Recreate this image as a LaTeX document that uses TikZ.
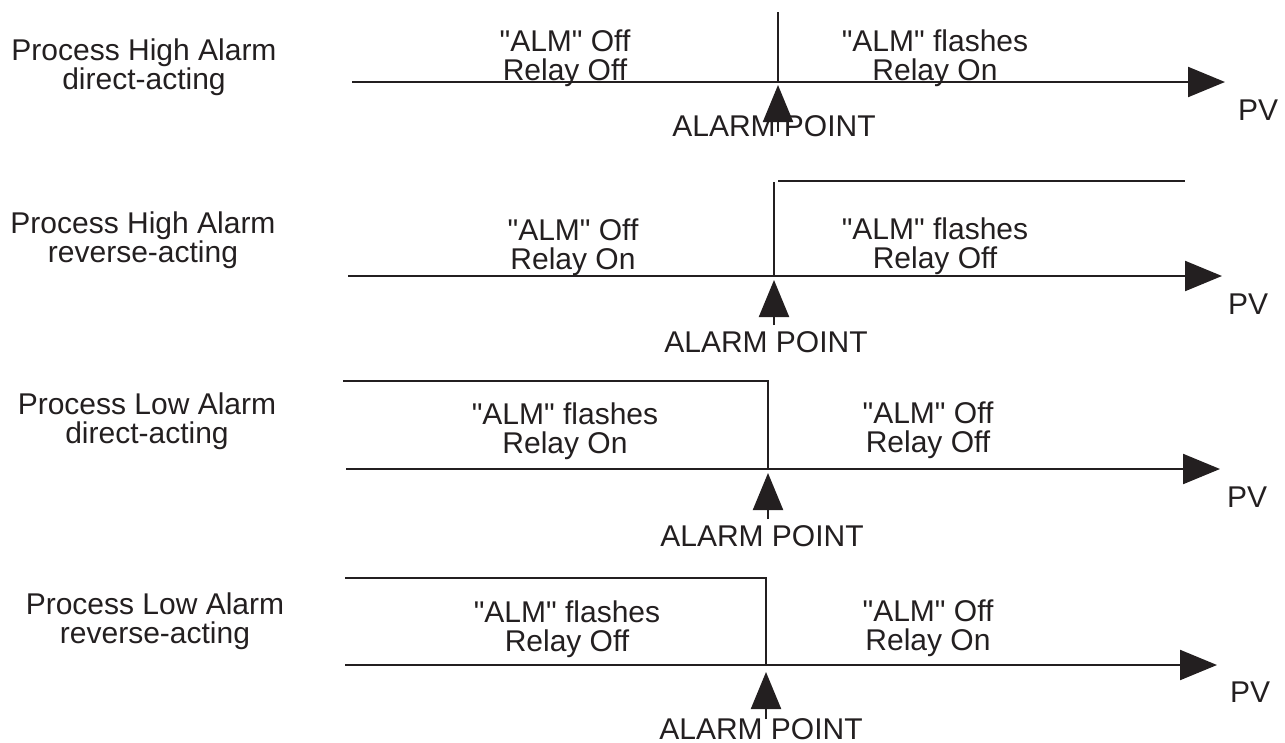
\documentclass[tikz,border=0pt]{standalone}
\usepackage{fontspec}
\setmainfont{Liberation Sans}[Ligatures=TeXOff]
\usetikzlibrary{arrows.meta}
\definecolor{ink}{HTML}{231F20}
\tikzset{
  lbl/.style={font=\fontsize{30}{29}\selectfont, text=ink, inner sep=0pt, align=center},
  one/.style={lbl, anchor=base},
  ln/.style={draw=ink, line width=2.2pt},
  axis/.style={ln, -{Triangle[length=37pt,width=30pt]}},
  pt/.style={ln, -{Triangle[length=37pt,width=30pt]}}
}
\begin{document}
\begin{tikzpicture}[x=1pt,y=-1pt]
\useasboundingbox (0,0) rectangle (1285,742);
% ---------- Row 1 ----------
\node[lbl] (l1) at (144,66.75) {Process High Alarm\\direct-acting};
\coordinate (a1s) at (352,82);
\coordinate (a1e) at (1225,82);
\coordinate (v1t) at (778,12);
\coordinate (v1b) at (778,82);
\draw[axis] (a1s) -- (a1e);
\draw[ln] (v1t) -- (v1b);
\node[lbl] (t1a) at (565,58.5) {"ALM" Off\\Relay Off};
\node[lbl] (t1b) at (935,58.5) {"ALM" flashes\\Relay On};
\node[one] (ap1) at (774,136) {ALARM POINT};
\coordinate (p1t) at (778,85);
\coordinate (p1s) at (778,132);
\draw[pt] (p1s) -- (p1t);
\node[one] (pv1) at (1258,120) {PV};
% ---------- Row 2 ----------
\node[lbl] (l2) at (143,239.75) {Process High Alarm\\reverse-acting};
\coordinate (a2s) at (348,276);
\coordinate (a2e) at (1222,276);
\coordinate (v2t) at (774,182);
\coordinate (v2b) at (774,276);
\coordinate (h2s) at (778,181);
\coordinate (h2e) at (1185,181);
\draw[axis] (a2s) -- (a2e);
\draw[ln] (v2t) -- (v2b);
\draw[ln] (h2s) -- (h2e);
\node[lbl] (t2a) at (573,247.75) {"ALM" Off\\Relay On};
\node[lbl] (t2b) at (935,245.75) {"ALM" flashes\\Relay Off};
\node[one] (ap2) at (766,352) {ALARM POINT};
\coordinate (p2t) at (774,280);
\coordinate (p2s) at (774,325);
\draw[pt] (p2s) -- (p2t);
\node[one] (pv2) at (1248,314) {PV};
% ---------- Row 3 ----------
\node[lbl] (l3) at (147,420.75) {Process Low Alarm\\direct-acting};
\coordinate (a3s) at (346,469);
\coordinate (a3e) at (1220,469);
\coordinate (h3s) at (343,381);
\coordinate (h3c) at (768,381);
\coordinate (v3b) at (768,469);
\draw[axis] (a3s) -- (a3e);
\draw[ln] (h3s) -- (h3c) -- (v3b);
\node[lbl] (t3a) at (565,431.25) {"ALM" flashes\\Relay On};
\node[lbl] (t3b) at (928,430.25) {"ALM" Off\\Relay Off};
\node[one] (ap3) at (762,546) {ALARM POINT};
\coordinate (p3t) at (768,473);
\coordinate (p3s) at (768,519);
\draw[pt] (p3s) -- (p3t);
\node[one] (pv3) at (1247,507) {PV};
% ---------- Row 4 ----------
\node[lbl] (l4) at (155,620.75) {Process Low Alarm\\reverse-acting};
\coordinate (a4s) at (345,665);
\coordinate (a4e) at (1217,665);
\coordinate (h4s) at (345,578);
\coordinate (h4c) at (766,578);
\coordinate (v4b) at (766,665);
\draw[axis] (a4s) -- (a4e);
\draw[ln] (h4s) -- (h4c) -- (v4b);
\node[lbl] (t4a) at (567,628.75) {"ALM" flashes\\Relay Off};
\node[lbl] (t4b) at (928,627.75) {"ALM" Off\\Relay On};
\node[one] (ap4) at (761,739) {ALARM POINT};
\coordinate (p4t) at (766,672);
\coordinate (p4s) at (766,719);
\draw[pt] (p4s) -- (p4t);
\node[one] (pv4) at (1250,702) {PV};
\end{tikzpicture}
\end{document}
